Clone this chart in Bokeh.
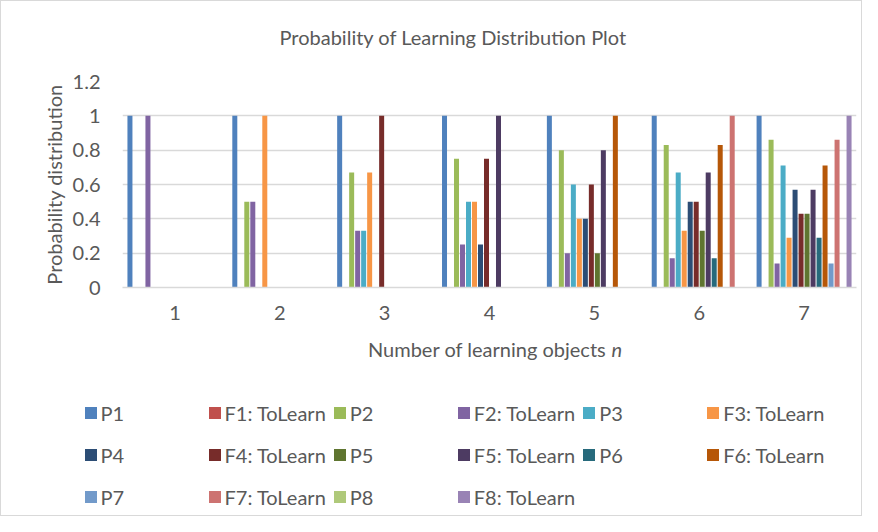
from bokeh.plotting import figure
from bokeh.layouts import column
from bokeh.models import (FactorRange, Range1d, FixedTicker, CustomJSTickFormatter,
                          Legend, Title, Label, ColumnDataSource)
from bokeh.transform import dodge
from bokeh.embed import file_html
from bokeh.resources import INLINE

# ---------------- data ----------------
n = ["1", "2", "3", "4", "5", "6", "7"]
series_names = ["P1", "F1: ToLearn", "P2", "F2: ToLearn", "P3", "F3: ToLearn",
                "P4", "F4: ToLearn", "P5", "F5: ToLearn", "P6", "F6: ToLearn",
                "P7", "F7: ToLearn", "P8", "F8: ToLearn"]
P1 = [1, 1, 1, 1, 1, 1, 1]
F1 = [0, 0, 0, 0, 0, 0, 0]
P2 = [0, 0.5, 0.67, 0.75, 0.8, 0.83, 0.86]
F2 = [1, 0.5, 0.33, 0.25, 0.2, 0.17, 0.14]
P3 = [0, 0, 0.33, 0.5, 0.6, 0.67, 0.71]
F3 = [0, 1, 0.67, 0.5, 0.4, 0.33, 0.29]
P4 = [0, 0, 0, 0.25, 0.4, 0.5, 0.57]
F4 = [0, 0, 1, 0.75, 0.6, 0.5, 0.43]
P5 = [0, 0, 0, 0, 0.2, 0.33, 0.43]
F5 = [0, 0, 0, 1, 0.8, 0.67, 0.57]
P6 = [0, 0, 0, 0, 0, 0.17, 0.29]
F6 = [0, 0, 0, 0, 1, 0.83, 0.71]
P7 = [0, 0, 0, 0, 0, 0, 0.14]
F7 = [0, 0, 0, 0, 0, 1, 0.86]
P8 = [0, 0, 0, 0, 0, 0, 0]
F8 = [0, 0, 0, 0, 0, 0, 1]
y_ticks = [0, 0.2, 0.4, 0.6, 0.8, 1.0, 1.2]

values = [P1, F1, P2, F2, P3, F3, P4, F4, P5, F5, P6, F6, P7, F7, P8, F8]
colors = ["#4F81BD", "#C0504D", "#9BBB59", "#8064A2", "#4BACC6", "#F79646",
          "#2C4D75", "#772C2A", "#5F7530", "#4D3B62", "#276A7C", "#B65708",
          "#729ACA", "#CD7371", "#AFC97A", "#9983B5"]

FONT = "Lato"
TXT = "#595959"
GRID = "#d9d9d9"
FS = "20px"
W = 860
H1 = 326
H2 = 188

src = ColumnDataSource(dict(n=n, **{f"s{i}": v for i, v in enumerate(values)}))

slot = 0.0572
bw = 0.0477

# ---------------- main chart ----------------
p = figure(x_range=FactorRange(factors=n), y_range=Range1d(0, 1.2),
           width=W, height=H1, output_backend="svg", toolbar_location=None,
           min_border_left=121, min_border_right=5, min_border_top=80,
           min_border_bottom=40, frame_align=False)

for i, col in enumerate(colors):
    p.vbar(x=dodge("n", (i - 7.5) * slot, range=p.x_range), top=f"s{i}",
           width=bw, source=src, fill_color=col, line_color=None)

spacer = Title(text=" ", text_font_size="10px", standoff=10)
p.add_layout(spacer, "above")
title = Title(text="Probability of Learning Distribution Plot", align="left",
              offset=157, text_font=FONT, text_font_size=FS,
              text_font_style="normal", text_color=TXT, standoff=20)
p.add_layout(title, "above")

p.outline_line_color = None
p.xgrid.grid_line_color = None
p.ygrid.grid_line_color = GRID
p.ygrid.grid_line_width = 1.5
p.yaxis.ticker = FixedTicker(ticks=y_ticks)
p.yaxis.formatter = CustomJSTickFormatter(code="return (Math.round(tick*10)/10).toString();")
p.yaxis.axis_line_color = None
p.yaxis.major_tick_line_color = None
p.yaxis.minor_tick_line_color = None
p.yaxis.major_label_standoff = 16
p.yaxis.major_label_text_font = FONT
p.yaxis.major_label_text_font_size = FS
p.yaxis.major_label_text_color = TXT
p.yaxis.axis_label = "Probability distribution"
p.yaxis.axis_label_text_font = FONT
p.yaxis.axis_label_text_font_size = FS
p.yaxis.axis_label_text_font_style = "normal"
p.yaxis.axis_label_text_color = TXT
p.yaxis.axis_label_standoff = 4

p.xaxis.axis_line_color = GRID
p.xaxis.axis_line_width = 1.5
p.xaxis.major_tick_line_color = None
p.xaxis.minor_tick_line_color = None
p.xaxis.major_label_standoff = 12
p.xaxis.major_label_text_font = FONT
p.xaxis.major_label_text_font_size = FS
p.xaxis.major_label_text_color = TXT

# ---------------- lower panel: axis title + legend ----------------
# same bars drawn here only to feed the legend; the y range keeps them out of view
p2 = figure(x_range=FactorRange(factors=n), y_range=Range1d(2, 3),
            width=W, height=H2, output_backend="svg", toolbar_location=None,
            min_border_left=0, min_border_right=0, min_border_top=0,
            min_border_bottom=0, frame_align=False)
p2.axis.visible = False
p2.grid.grid_line_color = None
p2.outline_line_color = None

items = []
for i, (name, col) in enumerate(zip(series_names, colors)):
    r = p2.vbar(x=dodge("n", (i - 7.5) * slot, range=p2.x_range), top=f"s{i}",
                width=bw, source=src, fill_color=col, line_color=None)
    items.append((name, [r]))

lab1 = Label(x=605, y=H2 - 21, x_units="screen", y_units="screen",
             text="Number of learning objects", text_align="right",
             text_baseline="middle", text_font=FONT, text_font_size=FS,
             text_color=TXT)
lab2 = Label(x=610, y=H2 - 21, x_units="screen", y_units="screen", text="n",
             text_align="left", text_baseline="middle", text_font=FONT,
             text_font_size=FS, text_font_style="italic", text_color=TXT)
p2.add_layout(lab1)
p2.add_layout(lab2)

legend = Legend(items=items, orientation="horizontal", ncols=6,
                location=(81.5, 0.5), padding=0, margin=0,
                glyph_width=15, glyph_height=15, label_standoff=3,
                label_width=100, label_height=36, spacing=6,
                label_text_font=FONT, label_text_font_size=FS,
                label_text_color=TXT, border_line_color=None,
                background_fill_alpha=0)
p2.add_layout(legend)

layout = column(p, p2, spacing=0, styles={"border": "1px solid #d9d9d9"})
open("out.html", "w").write(file_html(layout, INLINE))
